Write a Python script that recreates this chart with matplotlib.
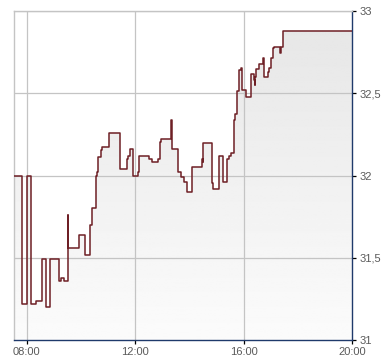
import matplotlib
matplotlib.use("Agg")
import matplotlib.pyplot as plt
import numpy as np

plt.rcParams['font.family'] = ['Liberation Sans', 'DejaVu Sans']

# step changes of the intraday price (time of change, new price)
times = ["07:33", "07:51", "08:01", "08:11", "08:22", "08:35", "08:42", "08:53",
         "09:11", "09:17", "09:23", "09:31", "09:32", "09:57", "10:09", "10:21",
         "10:24", "10:33", "10:36", "10:39", "10:44", "10:47", "11:02", "11:26",
         "11:42", "11:45", "11:49", "11:56", "12:06", "12:08", "12:30", "12:38",
         "12:50", "12:54", "12:57", "13:20", "13:21", "13:34", "13:42", "13:49",
         "13:54", "14:05", "14:27", "14:29", "14:31", "14:49", "14:52", "15:05",
         "15:15", "15:24", "15:27", "15:31", "15:38", "15:41", "15:45", "15:50",
         "15:53", "15:56", "15:57", "16:04", "16:17", "16:23", "16:24", "16:26",
         "16:28", "16:34", "16:43", "16:45", "16:53", "16:56", "17:00", "17:04",
         "17:07", "17:21", "17:22", "17:26"]
prices = [32.00, 31.217, 32.00, 31.217, 31.235, 31.495, 31.20, 31.495,
          31.358, 31.376, 31.358, 31.76, 31.557, 31.636, 31.517, 31.697,
          31.80, 32.00, 32.02, 32.114, 32.155, 32.175, 32.256, 32.038,
          32.10, 32.12, 32.159, 32.00, 32.02, 32.119, 32.10, 32.082,
          32.10, 32.206, 32.22, 32.337, 32.159, 32.019, 31.993, 31.962,
          31.898, 32.053, 32.10, 32.08, 32.196, 31.957, 31.916, 32.118,
          31.959, 32.10, 32.12, 32.135, 32.337, 32.376, 32.515, 32.641,
          32.655, 32.60, 32.52, 32.479, 32.615, 32.58, 32.55, 32.60,
          32.65, 32.676, 32.712, 32.597, 32.627, 32.655, 32.716, 32.773,
          32.78, 32.745, 32.78, 32.878]

x_ticks = ["08:00", "12:00", "16:00", "20:00"]
y_ticks = [31, 31.5, 32, 32.5, 33]
y_labels = ["31", "31,5", "32", "32,5", "33"]
session_end = "20:00"


def to_hours(s):
    h, m = s.split(":")
    return int(h) + int(m) / 60


x = [to_hours(t) for t in times] + [to_hours(session_end)]
y = prices + [prices[-1]]
x_lo, x_hi = x[0], x[-1]
y_lo, y_hi = 31, 33

fig = plt.figure(figsize=(3.9, 3.64), dpi=100)
ax = fig.add_axes([14.3 / 390, 24 / 364, 338 / 390, 329 / 364])
ax.set_xlim(x_lo, x_hi)
ax.set_ylim(y_lo, y_hi)

# grey gradient under the line
poly = ax.fill_between(x, y, y_lo, step="post", color="none", lw=0)
grad = np.linspace(0.985, 0.9, 256).reshape(-1, 1)
im = ax.imshow(grad, cmap="gray", vmin=0, vmax=1, aspect="auto",
               extent=[x_lo, x_hi, y_lo, y_hi], origin="lower", zorder=1)
im.set_clip_path(poly.get_paths()[0], transform=ax.transData)

ax.plot(x, y, drawstyle="steps-post", color="#6e1f25", lw=1.1, zorder=3)

grid_c = "#c4c4c4"
for t in x_ticks[:-1]:
    ax.axvline(to_hours(t), color=grid_c, lw=0.9, zorder=2)
for v in y_ticks[1:]:
    ax.axhline(v, color=grid_c, lw=0.9, zorder=2)

ax.spines["left"].set_color(grid_c)
ax.spines["top"].set_color(grid_c)
ax.spines["right"].set_color("#1f3a6b")
ax.spines["bottom"].set_color("#1f3a6b")
for s in ax.spines.values():
    s.set_linewidth(1.0)

ax.set_xticks([to_hours(t) for t in x_ticks])
ax.set_xticklabels(x_ticks)
ax.set_yticks(y_ticks)
ax.set_yticklabels(y_labels)
ax.yaxis.tick_right()
ax.tick_params(axis="both", length=3, width=0.9, color="black",
               labelcolor="#5a5a5a", labelsize=8, pad=2)

fig.savefig("out.png", dpi=100)
